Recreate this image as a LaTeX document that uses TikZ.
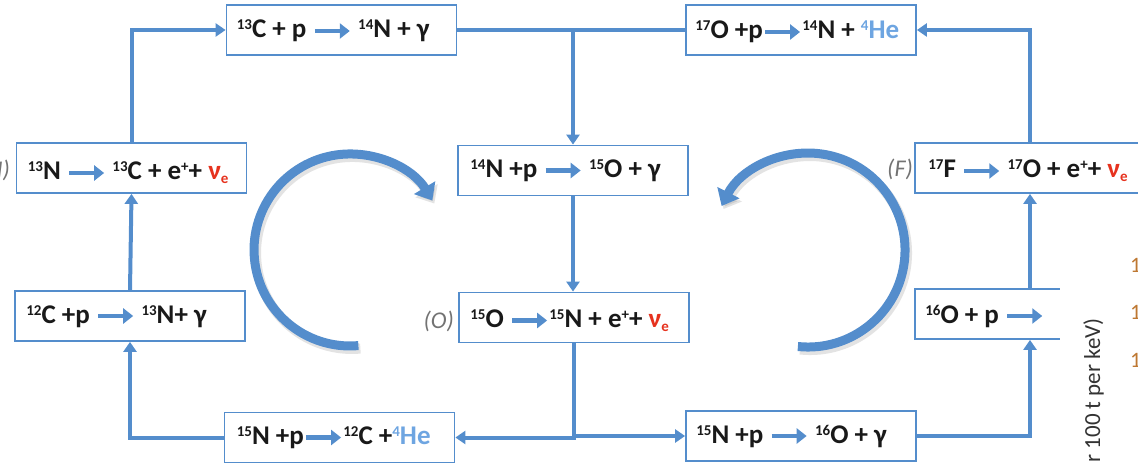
\documentclass[tikz,border=0pt]{standalone}
\usepackage{fontspec}
\setmainfont{Carlito}
\usetikzlibrary{arrows.meta}
\definecolor{cblue}{RGB}{84,141,204}
\definecolor{nured}{RGB}{230,50,30}
\definecolor{hecol}{RGB}{110,165,225}
\definecolor{txt}{RGB}{25,25,25}
\definecolor{lbl}{RGB}{115,115,115}
\definecolor{tick}{RGB}{190,120,50}
\newcommand{\up}[1]{\raisebox{8pt}{\fontsize{15}{15}\selectfont #1}}
\newcommand{\dn}[1]{\raisebox{-4pt}{\fontsize{15}{15}\selectfont #1}}
\newcommand{\rarr}{\tikz[baseline=-7pt]\draw[line width=4.5pt,draw=cblue,-{Triangle[width=15pt,length=10pt]}](0pt,0pt)--(35pt,0pt);}
\newcommand{\nue}{\textcolor{nured}{ν\dn{e}}}
\newcommand{\hel}{\textcolor{hecol}{\up{4}He}}
\begin{document}
\begin{tikzpicture}[x=1pt,y=-1pt,
  box/.style={draw=cblue,line width=1.8pt,minimum width=230pt,minimum height=50pt,inner sep=0pt},
  rx/.style={font=\fontsize{27}{31}\selectfont\bfseries,text=txt,anchor=base west,inner sep=0pt},
  lab/.style={font=\fontsize{24}{28}\selectfont\itshape,text=lbl,anchor=base east,inner sep=0pt},
  wire/.style={draw=cblue,line width=4pt},
  conn/.style={wire,-{Triangle[width=13pt,length=10pt]}},
  curv/.style={draw=cblue,line width=9pt,-{Triangle[width=24pt,length=15pt]}},
  shad/.style={draw=black!60,opacity=0.18,line width=10pt,-{Triangle[width=25pt,length=15pt]}}]
\useasboundingbox (0,0) rectangle (1138,465);
% boxes
\node[box] (n13) at (131.5,168) {};
\node[box] (c12) at (130,316) {};
\node[box] (c13) at (341.5,30) {};
\node[box] (o17) at (801,30) {};
\node[box] (n14) at (573,170.5) {};
\node[box] (o15) at (574,317.5) {};
\node[box] (f17) at (1030,168) {};
\node[box] (o16) at (1030,314) {};
\node[box] (b12) at (339.5,437.5) {};
\node[box] (b16) at (801,436) {};
% texts
\node[rx] (tn13) at ([xshift=12pt,yshift=-12pt]n13.west) {\up{13}N \rarr{} \up{13}C + e\up{+}+ \nue};
\node[rx] (tc12) at ([xshift=12pt,yshift=-7pt]c12.west) {\up{12}C +p \rarr{} \up{13}N+ γ};
\node[rx] (tc13) at ([xshift=11pt,yshift=-8pt]c13.west) {\up{13}C + p \rarr{} \up{14}N + γ};
\node[rx] (to17) at ([xshift=10pt,yshift=-9pt]o17.west) {\up{17}O +p\rarr{}\up{14}N + \hel};
\node[rx] (tn14) at ([xshift=13pt,yshift=-7pt]n14.west) {\up{14}N +p \rarr{} \up{15}O + γ};
\node[rx] (to15) at ([xshift=12pt,yshift=-10pt]o15.west) {\up{15}O \rarr{}\up{15}N + e\up{+}+ \nue};
\node[rx] (tf17) at ([xshift=14pt,yshift=-10pt]f17.west) {\up{17}F \rarr{} \up{17}O + e\up{+}+ \nue};
\node[rx] (to16) at ([xshift=11pt,yshift=-9pt]o16.west) {\up{16}O + p \rarr};
\node[rx] (tb12) at ([xshift=13pt,yshift=-7pt]b12.west) {\up{15}N +p\rarr{}\up{12}C +\hel};
\node[rx] (tb16) at ([xshift=11pt,yshift=-7pt]b16.west) {\up{15}N +p \rarr{} \up{16}O + γ};
% labels
\node[lab] (ln) at (10,178) {(N)};
\node[lab] (lo) at (454,328) {(O)};
\node[lab] (lf) at (913,177) {(F)};
% connectors
\draw[conn] (c12.north) -- (n13.south);
\draw[conn] (n13.north) |- (c13.west);
\draw[wire] (c13.east) -- (o17.west);
\draw[conn] (n14.north |- c13.east) -- (n14.north);
\draw[conn] (f17.north) |- (o17.east);
\draw[conn] (n14.south) -- (n14.south |- o15.north);
\draw[conn] (o15.south) |- (b12.east);
\draw[conn] (o15.south) |- (b16.west);
\draw[conn] (b12.west) -| (c12.south);
\draw[conn] (b16.east) -| (o16.south);
\draw[conn] (o16.north) -- (f17.south);
% cycle arrows
\draw[shad] (360.4,348.6) arc[start angle=85,end angle=329,radius=96];
\draw[curv] (358.4,345.6) arc[start angle=85,end angle=329,radius=96];
\draw[shad] (799.9,349.5) arc[start angle=96,end angle=-153,radius=97];
\draw[curv] (797.9,346.5) arc[start angle=96,end angle=-153,radius=97];
% overlapping plot fragment
\fill[white] (1060,200) rectangle (1138,465);
\node[font=\fontsize{23}{27}\selectfont,text=black!80,rotate=90,anchor=base east,inner sep=0pt] (ax) at (1100,318) {r 100 t per keV)};
\node[font=\fontsize{22}{26}\selectfont,text=tick,anchor=west,inner sep=0pt] (k1) at (1130,265) {1};
\node[font=\fontsize{22}{26}\selectfont,text=tick,anchor=west,inner sep=0pt] (k2) at (1130,312) {1};
\node[font=\fontsize{22}{26}\selectfont,text=tick,anchor=west,inner sep=0pt] (k3) at (1130,360) {1};
\end{tikzpicture}
\end{document}
